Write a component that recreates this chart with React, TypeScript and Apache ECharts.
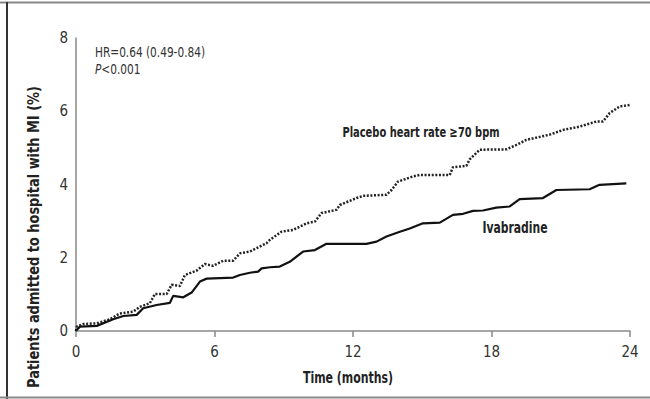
import React, { useEffect, useRef } from "react";
import * as echarts from "echarts";

const placeboMonths = [0, 0.03, 0.32, 0.9, 1.47, 1.9, 2.48, 2.77, 3.2, 3.42, 3.93, 4.14, 4.5, 4.72, 5.23, 5.58, 5.94, 6.38, 6.81, 7.1, 7.53, 7.82, 8.26, 8.4, 8.9, 9.41, 9.99, 10.35, 10.64, 11.29, 11.43, 12.15, 12.44, 13.45, 13.67, 13.95, 14.6, 14.89, 16.19, 16.33, 16.91, 17.06, 17.49, 18.65, 19.08, 19.51, 20.52, 21.1, 21.82, 22.54, 22.83, 23.12, 23.55, 24.0];
const placeboValues = [0, 0.12, 0.19, 0.21, 0.32, 0.48, 0.53, 0.66, 0.76, 1.01, 1.01, 1.26, 1.23, 1.53, 1.65, 1.83, 1.78, 1.92, 1.92, 2.12, 2.17, 2.26, 2.4, 2.49, 2.71, 2.76, 2.94, 2.99, 3.22, 3.31, 3.44, 3.63, 3.69, 3.72, 3.85, 4.08, 4.22, 4.26, 4.26, 4.47, 4.51, 4.69, 4.95, 4.96, 5.08, 5.22, 5.36, 5.49, 5.58, 5.72, 5.72, 5.95, 6.13, 6.17];

const ivabradineMonths = [0, 0.03, 0.17, 0.9, 1.61, 2.05, 2.63, 2.91, 3.49, 4.07, 4.21, 4.65, 5.01, 5.37, 5.66, 6.81, 7.1, 7.53, 7.89, 8.04, 8.4, 8.83, 9.26, 9.84, 10.35, 10.85, 12.58, 13.02, 13.45, 14.03, 14.46, 15.03, 15.76, 16.33, 16.77, 17.2, 17.63, 18.21, 18.79, 19.22, 20.23, 20.81, 22.25, 22.68, 23.26, 23.84];
const ivabradineValues = [0, 0.03, 0.12, 0.14, 0.32, 0.41, 0.44, 0.62, 0.71, 0.77, 0.96, 0.92, 1.05, 1.35, 1.43, 1.46, 1.53, 1.59, 1.62, 1.71, 1.74, 1.76, 1.89, 2.17, 2.21, 2.38, 2.38, 2.44, 2.58, 2.71, 2.8, 2.94, 2.96, 3.17, 3.2, 3.28, 3.29, 3.37, 3.4, 3.6, 3.63, 3.85, 3.87, 3.99, 4.01, 4.03];

const xTicks = [0, 6, 12, 18, 24];
const yTicks = [0, 2, 4, 6, 8];

const FONT = "'DejaVu Sans Condensed', 'DejaVu Sans', sans-serif";

export default function App() {
  const ref = useRef<HTMLDivElement>(null);
  useEffect(() => {
    if (!ref.current) return;
    const chart = echarts.init(ref.current, undefined, { renderer: "svg" });
    const zip = (a: number[], b: number[]) => a.map((x, i) => [x, b[i]]);
    chart.setOption({
      animation: false,
      backgroundColor: "#fff",
      grid: { left: 76, right: 20, top: 38, bottom: 68, containLabel: false },
      xAxis: {
        type: "value",
        min: 0,
        max: 24,
        interval: 6,
        axisLine: { show: true, lineStyle: { color: "#8a8a8a", width: 1.5 } },
        axisTick: { show: true, length: 6, inside: false, lineStyle: { color: "#8a8a8a", width: 1.5 }, customValues: xTicks },
        axisLabel: { customValues: xTicks, margin: 13, fontFamily: FONT, fontSize: 15, color: "#333" },
        splitLine: { show: false },
      },
      yAxis: {
        type: "value",
        min: 0,
        max: 8,
        interval: 2,
        axisLine: { show: true, lineStyle: { color: "#8a8a8a", width: 1.5 } },
        axisTick: { show: false },
        axisLabel: { customValues: yTicks, margin: 8, fontFamily: FONT, fontSize: 15, color: "#333" },
        splitLine: { show: false },
      },
      series: [
        {
          name: "Placebo heart rate ≥70 bpm",
          type: "line",
          data: zip(placeboMonths, placeboValues),
          showSymbol: false,
          symbol: "none",
          lineStyle: { color: "#222", width: 2.5, type: [2, 1.6] },
        },
        {
          name: "Ivabradine",
          type: "line",
          data: zip(ivabradineMonths, ivabradineValues),
          showSymbol: false,
          symbol: "none",
          lineStyle: { color: "#111", width: 2.2, type: "solid" },
        },
      ],
      graphic: [
        { type: "line", shape: { x1: 0, y1: 2.5, x2: 650, y2: 2.5 }, style: { stroke: "#888", lineWidth: 2 } },
        { type: "line", shape: { x1: 7, y1: 2, x2: 7, y2: 399 }, style: { stroke: "#333", lineWidth: 2 } },
        { type: "line", shape: { x1: 0, y1: 397.5, x2: 650, y2: 397.5 }, style: { stroke: "#888", lineWidth: 2 } },
        {
          type: "text",
          x: 33,
          y: 237,
          rotation: Math.PI / 2,
          scaleX: 0.96,
          style: {
            text: "Patients admitted to hospital with MI (%)",
            fontFamily: FONT,
            fontSize: 15,
            fontWeight: "bold",
            fill: "#222",
            align: "center",
            verticalAlign: "middle",
          },
        },
        {
          type: "text",
          x: 348,
          y: 377,
          scaleX: 0.76,
          style: {
            text: "Time (months)",
            fontFamily: FONT,
            fontSize: 16,
            fontWeight: "bold",
            fill: "#222",
            align: "center",
            verticalAlign: "middle",
          },
        },
        {
          type: "text",
          x: 95,
          y: 52,
          scaleX: 0.84,
          style: {
            text: "HR=0.64 (0.49-0.84)",
            fontFamily: FONT,
            fontSize: 14,
            fill: "#333",
            align: "left",
            verticalAlign: "middle",
          },
        },
        {
          type: "text",
          x: 95,
          y: 69,
          scaleX: 0.84,
          style: {
            text: "{i|P}<0.001",
            fontFamily: FONT,
            fontSize: 14,
            fill: "#333",
            align: "left",
            verticalAlign: "middle",
            rich: { i: { fontStyle: "italic", fontFamily: FONT, fontSize: 14, fill: "#333" } },
          },
        },
        {
          type: "text",
          x: 421,
          y: 132,
          scaleX: 0.76,
          style: {
            text: "Placebo heart rate ≥70 bpm",
            fontFamily: FONT,
            fontSize: 14.5,
            fontWeight: "bold",
            fill: "#222",
            align: "center",
            verticalAlign: "middle",
          },
        },
        {
          type: "text",
          x: 515,
          y: 227,
          scaleX: 0.75,
          style: {
            text: "Ivabradine",
            fontFamily: FONT,
            fontSize: 16,
            fontWeight: "bold",
            fill: "#222",
            align: "center",
            verticalAlign: "middle",
          },
        },
      ],
    });
    return () => chart.dispose();
  }, []);
  return (
    <div
      ref={ref}
      style={{ position: "fixed", left: 0, top: 0, width: 650, height: 399, background: "#fff" }}
    />
  );
}
